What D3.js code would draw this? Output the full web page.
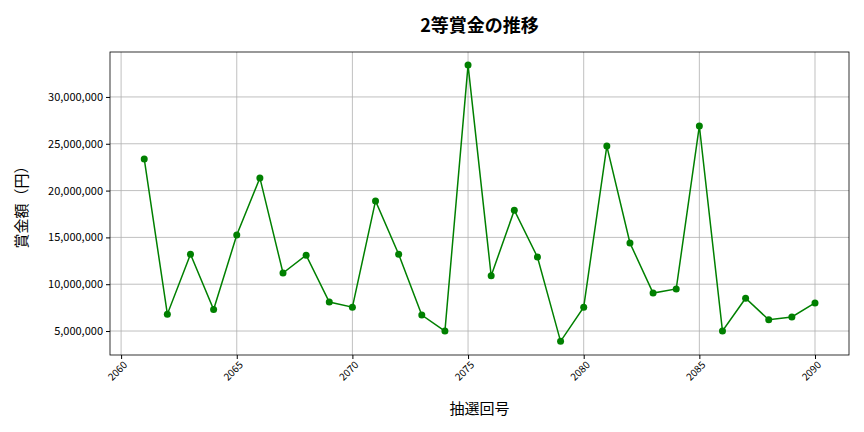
<!DOCTYPE html>
<html><head><meta charset="utf-8">
<script src="https://cdn.jsdelivr.net/npm/d3@7"></script>
<style>body{margin:0;background:#fff}text{font-family:"Noto Sans CJK JP","Noto Sans",sans-serif}</style>
</head><body><svg id="c" width="864" height="432"></svg>
<script>
// draw numbers 2061..2090
const draws = d3.range(2061, 2091);
const prizes = [23.38,6.8,13.2,7.3,15.25,21.35,11.2,13.1,8.1,7.55,18.9,13.2,6.7,5.0,33.4,10.9,17.9,12.9,3.9,7.55,24.75,14.4,9.05,9.5,26.9,5.0,8.5,6.2,6.5,8.0].map(v => v * 1e6);
const xTicks = [2060, 2065, 2070, 2075, 2080, 2085, 2090];
const yTicks = [5e6, 10e6, 15e6, 20e6, 25e6, 30e6];

const svg = d3.select("#c");
const L = 110, R = 849, T = 52, B = 355;
const x = d3.scaleLinear().domain([2059.52, 2091.47]).range([L, R]);
const y = d3.scaleLinear().domain([2.44e6, 34.8e6]).range([B, T]);

const gx = svg.append("g").attr("transform", `translate(0,${B})`)
  .call(d3.axisBottom(x).tickValues(xTicks).tickFormat(d3.format("d")).tickSize(4));
gx.selectAll("text").attr("font-size", 10).attr("transform", "rotate(-45)")
  .attr("text-anchor", "end").attr("dx", "-0.3em").attr("dy", "0.5em");
const gy = svg.append("g").attr("transform", `translate(${L},0)`)
  .call(d3.axisLeft(y).tickValues(yTicks).tickFormat(d3.format(",")).tickSize(4));
gy.selectAll("text").attr("font-size", 11);
svg.selectAll(".domain").remove();

// grid
svg.append("g").selectAll("line").data(xTicks).join("line")
  .attr("x1", d => x(d)).attr("x2", d => x(d)).attr("y1", T).attr("y2", B)
  .attr("stroke", "#b0b0b0").attr("stroke-width", 0.8);
svg.append("g").selectAll("line").data(yTicks).join("line")
  .attr("x1", L).attr("x2", R).attr("y1", d => y(d)).attr("y2", d => y(d))
  .attr("stroke", "#b0b0b0").attr("stroke-width", 0.8);
svg.append("rect").attr("x", L).attr("y", T).attr("width", R - L).attr("height", B - T)
  .attr("fill", "none").attr("stroke", "#000").attr("stroke-width", 0.8);

svg.append("path").datum(draws)
  .attr("d", d3.line().x(d => x(d)).y((d, i) => y(prizes[i])))
  .attr("fill", "none").attr("stroke", "green").attr("stroke-width", 1.5);
svg.append("g").selectAll("circle").data(draws).join("circle")
  .attr("cx", d => x(d)).attr("cy", (d, i) => y(prizes[i])).attr("r", 3.5).attr("fill", "green");

svg.append("text").attr("x", (L + R) / 2).attr("y", 32).attr("text-anchor", "middle")
  .attr("font-size", 18).attr("font-weight", "bold").text("2等賞金の推移");
svg.append("text").attr("x", (L + R) / 2).attr("y", 414).attr("text-anchor", "middle")
  .attr("font-size", 15).text("抽選回号");
svg.append("text").attr("transform", `translate(27,${(T + B) / 2}) rotate(-90)`)
  .attr("text-anchor", "middle").attr("font-size", 15).text("賞金額（円）");
</script></body></html>
